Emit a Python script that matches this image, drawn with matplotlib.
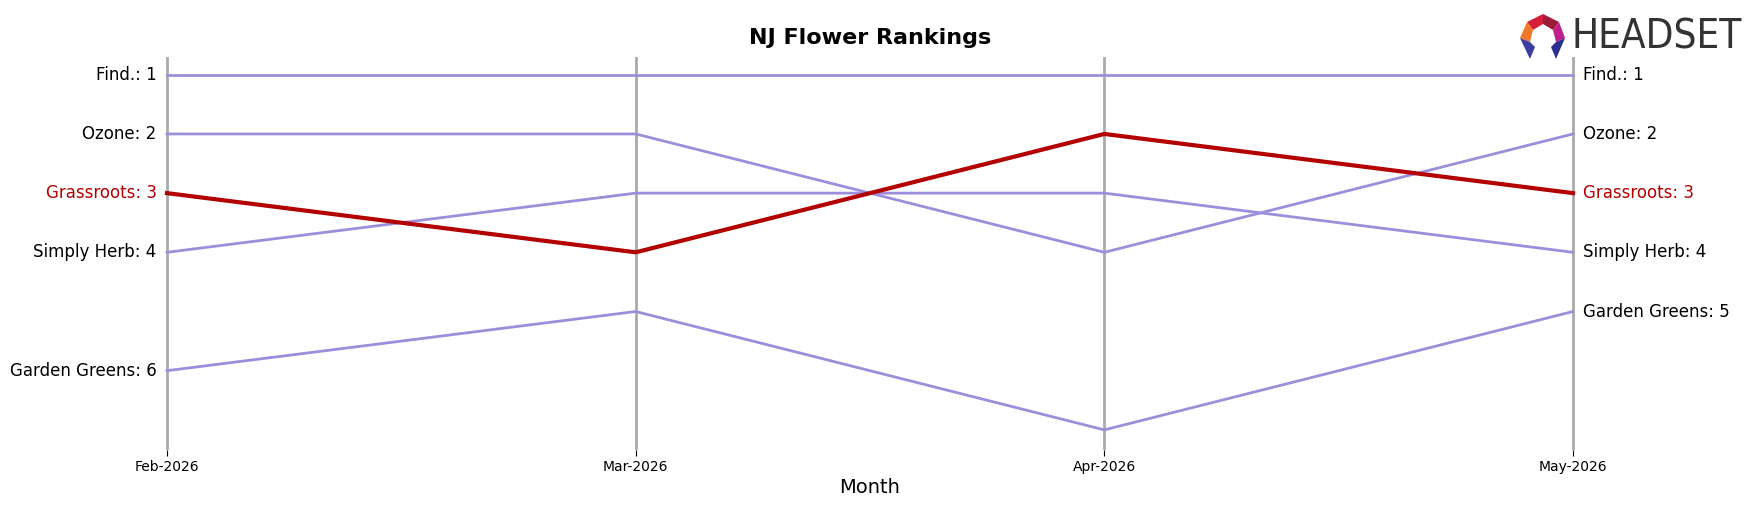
import matplotlib

matplotlib.use("Agg")
import matplotlib.pyplot as plt
from matplotlib.patches import Polygon

months = ["Feb-2026", "Mar-2026", "Apr-2026", "May-2026"]
brands = ["Find.", "Ozone", "Grassroots", "Simply Herb", "Garden Greens"]
find_ranks = [1, 1, 1, 1]
ozone_ranks = [2, 2, 4, 2]
grassroots_ranks = [3, 4, 2, 3]
simply_herb_ranks = [4, 3, 3, 4]
garden_greens_ranks = [6, 5, 7, 5]
highlight = "Grassroots"

ranks = {
    "Find.": find_ranks,
    "Ozone": ozone_ranks,
    "Grassroots": grassroots_ranks,
    "Simply Herb": simply_herb_ranks,
    "Garden Greens": garden_greens_ranks,
}

W, H = 1756, 507
fig = plt.figure(figsize=(W / 100, H / 100), dpi=100)
ax = fig.add_axes([162 / W, 1 - 450 / H, (1578 - 162) / W, (450 - 57) / H])

x = list(range(len(months)))
for i in x:
    ax.axvline(i, color="#aaaaaa", lw=2, zorder=1)

for b in brands:
    r = ranks[b]
    if b == highlight:
        ax.plot(x, r, color="#b30000", lw=3, zorder=3)
    else:
        ax.plot(x, r, color="#9b8fdb", lw=2, zorder=2)
    c = "#b30000" if b == highlight else "black"
    ax.text(-0.022, r[0], f"{b}: {r[0]}", ha="right", va="center", fontsize=12, color=c)
    ax.text(x[-1] + 0.022, r[-1], f"{b}: {r[-1]}", ha="left", va="center", fontsize=12, color=c)

ax.set_xlim(-5 / 469, 3 + 5 / 469)
ax.set_ylim(7.34, 0.70)
ax.set_xticks(x)
ax.set_xticklabels(months, fontsize=10)
ax.set_yticks([])
for s in ax.spines.values():
    s.set_visible(False)
ax.tick_params(axis="x", length=4, pad=3)
ax.set_xlabel("Month", fontsize=14, labelpad=3)
ax.set_title("NJ Flower Rankings", fontsize=16, fontweight="bold", pad=9)

# logo
fig.text(1572 / W, 1 - 38 / H, "HEADSET", fontsize=29, color="#333333",
         ha="left", va="center", fontstretch="condensed")
icon = [
    ([(1527, 22), (1543, 14), (1543, 24), (1533, 30)], "#d6203a"),
    ([(1543, 14), (1559, 22), (1553, 30), (1543, 24)], "#9c1c3a"),
    ([(1527, 22), (1533, 30), (1530, 42), (1520, 38)], "#f07a2a"),
    ([(1559, 22), (1565, 38), (1556, 42), (1553, 30)], "#c0208c"),
    ([(1520, 38), (1530, 42), (1535, 47), (1530, 59)], "#3a3ea0"),
    ([(1565, 38), (1556, 42), (1551, 47), (1556, 59)], "#2a3090"),
]
for pts, col in icon:
    fig.patches.append(Polygon([(px / W, 1 - py / H) for px, py in pts], closed=True,
                               transform=fig.transFigure, facecolor=col, edgecolor="none"))

fig.savefig("out.png", dpi=100)
